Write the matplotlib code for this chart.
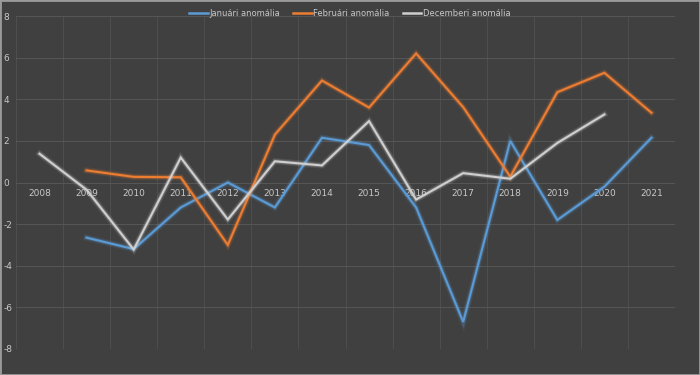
import matplotlib
matplotlib.use("Agg")
from matplotlib import pyplot as plt
import matplotlib.patheffects as pe
import numpy as np

years = ['2008', '2009', '2010', '2011', '2012', '2013', '2014',
         '2015', '2016', '2017', '2018', '2019', '2020', '2021']
jan = [None, -2.65, -3.2, -1.2, 0.0, -1.2, 2.15,
       1.8, -1.2, -6.7, 2.0, -1.8, -0.2, 2.15]
feb = [None, 0.58, 0.27, 0.25, -3.0, 2.3, 4.9,
       3.6, 6.2, 3.62, 0.28, 4.34, 5.27, 3.35]
dec = [1.38, -0.35, -3.22, 1.2, -1.78, 1.02, 0.82,
       2.95, -0.82, 0.45, 0.18, 1.9, 3.27, None]

bg = '#404040'
txt = '#c8c8c8'

fig = plt.figure(figsize=(7, 3.75), dpi=100, facecolor=bg)
ax = fig.add_axes([16 / 700, 1 - 349 / 375, 659 / 700, 333 / 375])
ax.set_facecolor(bg)

x = np.arange(len(years))


def arr(vals):
    return np.array([np.nan if v is None else v for v in vals], dtype=float)


series = [
    (jan, '#5b9bd5', 'Januári anomália'),
    (feb, '#ed7d31', 'Februári anomália'),
    (dec, '#cfcfcf', 'Decemberi anomália'),
]
for vals, col, name in series:
    ax.plot(x, arr(vals), color=col, linewidth=1.5, label=name, zorder=3,
            solid_joinstyle='miter',
            path_effects=[pe.Stroke(linewidth=4.5, foreground=col, alpha=0.12),
                          pe.Stroke(linewidth=2.8, foreground=col, alpha=0.25),
                          pe.Normal()])

ax.set_xlim(-0.5, len(years) - 0.5)
ax.set_ylim(-8, 8)

# gridlines: horizontal at every 2, vertical between categories
ax.set_yticks(range(-8, 9, 2))
ax.set_xticks(x)
ax.set_xticks(np.arange(-0.5, len(years), 1), minor=True)
ax.grid(axis='y', which='major', color='#565656', linewidth=0.7)
ax.grid(axis='x', which='minor', color='#4f4f4f', linewidth=0.7)
ax.grid(axis='x', which='major', visible=False)

# year labels sit on the zero line
ax.spines['bottom'].set_position(('data', 0))
for s in ['top', 'right', 'left', 'bottom']:
    ax.spines[s].set_visible(False)
ax.set_xticklabels(years)
ax.tick_params(axis='x', which='both', length=0, pad=5, labelsize=6.5,
               labelcolor=txt)
ax.set_yticklabels([str(v) for v in range(-8, 9, 2)])
ax.tick_params(axis='y', length=0, pad=9, labelsize=6.5, labelcolor=txt)
for lab in ax.get_yticklabels():
    lab.set_horizontalalignment('left')

leg = fig.legend(loc='center', bbox_to_anchor=(350 / 700, 1 - 13 / 375),
                 ncol=3, frameon=False, fontsize=6, labelcolor=txt,
                 handlelength=2.2, handletextpad=0.2, columnspacing=1.6)
for h in leg.get_lines():
    h.set_path_effects([])
    h.set_linewidth(1.8)

# light frame around the chart
fig.patches.append(plt.Rectangle((0, 0), 1, 1, transform=fig.transFigure,
                                 fill=False, edgecolor='#9a9a9a',
                                 linewidth=2))

fig.savefig('out.png', dpi=100, facecolor=bg)
